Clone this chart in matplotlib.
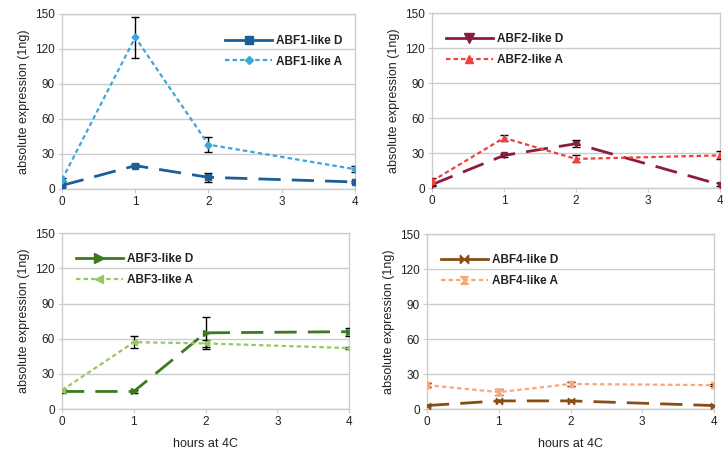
import matplotlib
matplotlib.use("Agg")
import matplotlib.pyplot as plt
from matplotlib.lines import Line2D

plt.rcParams["font.family"] = ["Liberation Sans", "DejaVu Sans"]

hours = [0, 1, 2, 4]
xticks = [0, 1, 2, 3, 4]
yticks = [0, 30, 60, 90, 120, 150]

abf1_d = [3, 20, 10, 6];      abf1_d_err = [1, 1, 4, 1]
abf1_a = [8, 130, 38, 17];    abf1_a_err = [1, 17.5, 6.5, 2.5]
abf2_d = [3, 28, 38, 3];      abf2_d_err = [1, 1.5, 3, 1]
abf2_a = [6, 43, 25, 28];     abf2_a_err = [3, 2.5, 3, 3.5]
abf3_d = [15, 15, 65, 66];    abf3_d_err = [1.5, 1.5, 13.5, 3.5]
abf3_a = [16, 57, 56, 52];    abf3_a_err = [1, 5, 3, 0.5]
abf4_d = [3, 7, 7, 3];        abf4_d_err = [0.5, 0.5, 0.5, 0.5]
abf4_a = [20.5, 14.5, 21.5, 20.5]; abf4_a_err = [2, 2.5, 1.5, 1]

labels = [("ABF1-like D", "ABF1-like A"), ("ABF2-like D", "ABF2-like A"),
          ("ABF3-like D", "ABF3-like A"), ("ABF4-like D", "ABF4-like A")]

bowtie = [(-1, -1), (-1, 1), (0, 0), (1, 1), (1, -1), (0, 0), (-1, -1)]
hourglass = [(-1, -1), (1, -1), (0, 0), (1, 1), (-1, 1), (0, 0), (-1, -1)]

panels = [
    (abf1_d, abf1_d_err, abf1_a, abf1_a_err, "#1b5e9a", "#3aa6dc", "s", "D", 4.5, 3.5),
    (abf2_d, abf2_d_err, abf2_a, abf2_a_err, "#8c1c3c", "#f0403c", "v", "^", 5, 5),
    (abf3_d, abf3_d_err, abf3_a, abf3_a_err, "#3d7a1e", "#96c860", ">", "<", 5, 5),
    (abf4_d, abf4_d_err, abf4_a, abf4_a_err, "#8a4d14", "#f8a878", bowtie, hourglass, 4.5, 4.5),
]

positions = [
    [0.0858, 0.581, 0.405, 0.388],
    [0.5975, 0.583, 0.398, 0.388],
    [0.0858, 0.093, 0.397, 0.390],
    [0.5906, 0.093, 0.397, 0.388],
]
legend_loc = ["upper right", "upper left", "upper left", "upper left"]
legend_anchor = [(0.965, 0.895), (0.04, 0.9), (0.04, 0.9), (0.04, 0.9)]

D_DASH = (8, 4)
A_DASH = (2, 1.4)

fig = plt.figure(figsize=(7.23, 4.51), dpi=100)
grid_col = "#cccccc"

for i, (d, de, a, ae, cd, ca, md, ma, msd, msa) in enumerate(panels):
    ax = fig.add_axes(positions[i])
    ax.errorbar(hours, d, yerr=de, color=cd, ecolor="black", elinewidth=1,
                capsize=3, capthick=1, lw=2, dashes=D_DASH, marker=md,
                markersize=msd, zorder=3)
    ax.errorbar(hours, a, yerr=ae, color=ca, ecolor="black", elinewidth=1,
                capsize=3, capthick=1, lw=1.6, dashes=A_DASH, marker=ma,
                markersize=msa, zorder=3)
    ax.set_xlim(0, 4)
    ax.set_ylim(0, 150)
    ax.set_xticks(xticks)
    ax.set_yticks(yticks)
    ax.grid(axis="y", color=grid_col, lw=1)
    ax.set_axisbelow(True)
    for s in ["left", "right", "top", "bottom"]:
        ax.spines[s].set_color(grid_col)
        ax.spines[s].set_linewidth(1)
    ax.tick_params(axis="both", length=3, color=grid_col, labelsize=8.5,
                   labelcolor="#222222", pad=2)
    ax.set_ylabel("absolute expression (1ng)", fontsize=9, color="#222222")
    if i >= 2:
        ax.set_xlabel("hours at 4C", fontsize=9, color="#222222", labelpad=7)
    handles = [
        Line2D([], [], color=cd, lw=2, marker=md, markersize=msd + 1.5),
        Line2D([], [], color=ca, lw=1.6, dashes=A_DASH, marker=ma, markersize=msa + 1),
    ]
    leg = ax.legend(handles, labels[i], loc=legend_loc[i], bbox_to_anchor=legend_anchor[i],
                    frameon=False, handlelength=4.0, handletextpad=0.3,
                    borderaxespad=0, borderpad=0.2,
                    labelspacing=0.75, prop={"weight": "bold", "size": 8.5})
    for t in leg.get_texts():
        t.set_color("#222222")

fig.savefig("out.png", dpi=100, facecolor="white")
